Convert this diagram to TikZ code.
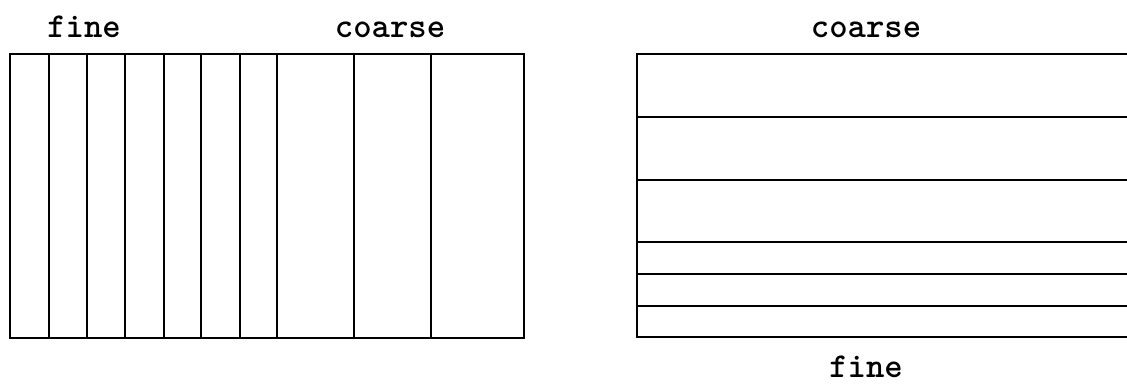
\documentclass[tikz,border=0pt]{standalone}
\usepackage{fontspec}
\begin{document}
\begin{tikzpicture}[x=1pt,y=-1pt,
  gridline/.style={line width=2.8pt, line cap=rect},
  lbl/.style={font=\ttfamily\bfseries\fontsize{35}{35}\selectfont, inner sep=0pt, anchor=base}]
\useasboundingbox (0,0) rectangle (1127,383);
% left box: fine -> coarse vertical strips
\coordinate (ltl) at (10,54);
\coordinate (lbr) at (524,338);
\draw[gridline] (ltl) rectangle (lbr);
\foreach \x in {49,87,125,164,201,240,277,354,431}{
  \draw[gridline] (\x,54) -- (\x,338);
}
\node[lbl] (fineL) at (84,37) {fine};
\node[lbl] (coarseL) at (390,37) {coarse};
% right box: coarse -> fine horizontal strips
\draw[gridline] (1127,54) -- (637,54) -- (637,337) -- (1127,337);
\foreach \y in {117,180,242,274,306}{
  \draw[gridline] (637,\y) -- (1127,\y);
}
\node[lbl] (coarseR) at (866,37) {coarse};
\node[lbl] (fineR) at (866,377) {fine};
\end{tikzpicture}
\end{document}
